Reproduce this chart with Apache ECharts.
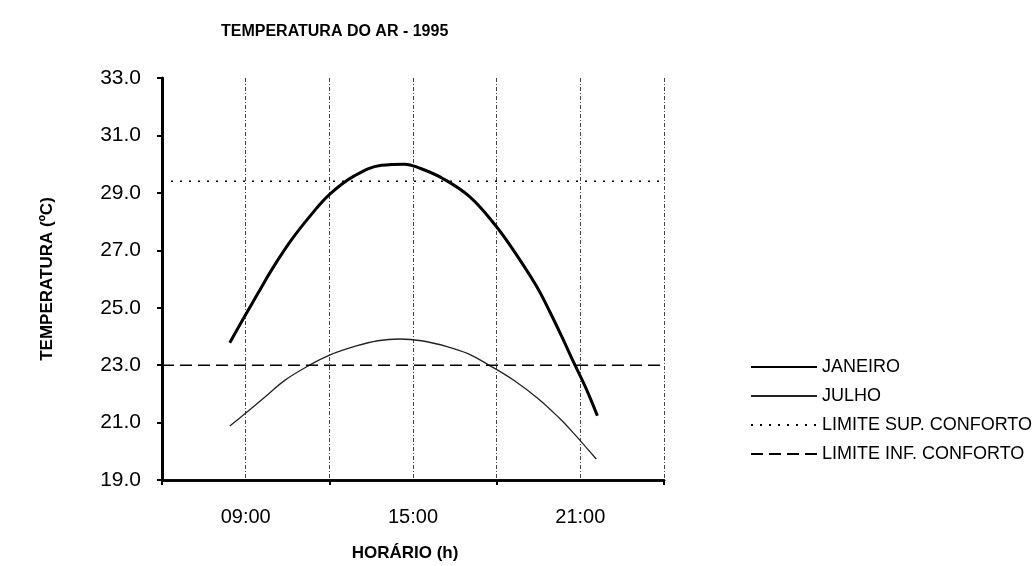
<!DOCTYPE html>
<html>
<head>
<meta charset="utf-8">
<script src="https://cdn.jsdelivr.net/npm/echarts@6/dist/echarts.min.js"></script>
<style>html,body{margin:0;padding:0;background:#fff}#c{width:1036px;height:566px}</style>
</head>
<body>
<div id="c"></div>
<script>
const titleText = 'TEMPERATURA DO AR - 1995';
const xName = 'HORÁRIO (h)';
const yName = 'TEMPERATURA (ºC)';
const xLabelHours = [9, 15, 21];
const xLabelTexts = ['09:00', '15:00', '21:00'];
const seriesNames = ['JANEIRO', 'JULHO', 'LIMITE SUP. CONFORTO', 'LIMITE INF. CONFORTO'];

const janHours = [8.43, 8.96, 9.44, 9.92, 10.64, 11.36, 12.01, 12.91, 13.87, 14.7, 15.24, 16.07, 17.03, 17.93, 18.59, 19.43, 19.91, 20.39, 20.75, 21.2, 21.61];
const janTemps = [23.78, 24.69, 25.5, 26.3, 27.36, 28.25, 28.95, 29.6, 29.96, 30.0, 29.86, 29.5, 28.87, 27.9, 27.02, 25.75, 24.85, 23.88, 23.12, 22.2, 21.24];

const julHours = [8.43, 8.96, 9.68, 10.4, 11.29, 12.01, 12.91, 13.74, 14.52, 15.3, 16.25, 16.97, 17.69, 18.65, 19.48, 20.2, 20.74, 21.57];
const julTemps = [20.88, 21.3, 21.88, 22.47, 23.0, 23.35, 23.65, 23.85, 23.91, 23.85, 23.64, 23.4, 23.02, 22.45, 21.84, 21.2, 20.65, 19.73];

const limitHours = [6, 24];
const limitSup = [29.4, 29.4];
const limitInf = [23.0, 23.0];

const zip = (xs, ys) => xs.map((x, i) => [x, ys[i]]);
const FONT = '"Liberation Sans", Arial, sans-serif';

const chart = echarts.init(document.getElementById('c'), null, {renderer: 'canvas'});
chart.setOption({
  animation: false,
  backgroundColor: '#fff',
  textStyle: {fontFamily: FONT, color: '#000'},
  title: {
    text: titleText, left: 216, top: 19,
    textStyle: {fontFamily: FONT, fontSize: 16, fontWeight: 'bold', color: '#000'}
  },
  graphic: [{
    type: 'text', x: 405, y: 553,
    style: {text: xName, font: 'bold 17px "Liberation Sans", Arial, sans-serif', fill: '#000',
            align: 'center', verticalAlign: 'middle'}
  }],
  legend: {
    orient: 'vertical', left: 745, top: 353,
    itemWidth: 66, itemHeight: 14, itemGap: 11,
    itemStyle: {opacity: 0},
    textStyle: {fontFamily: FONT, fontSize: 18, color: '#000'},
    data: seriesNames
  },
  grid: {left: 162, right: 372, top: 78, bottom: 86, containLabel: false},
  xAxis: [{
    type: 'value', min: 6, max: 24, interval: 3,
    axisLine: {show: true, lineStyle: {color: '#000', width: 2.5}},
    axisTick: {show: false},
    splitLine: {show: true, lineStyle: {color: '#444', width: 1, type: [4, 2, 1, 2]}},
    axisLabel: {
      margin: 27, fontSize: 20, fontFamily: FONT, color: '#000',
      formatter: v => { const i = xLabelHours.indexOf(v); return i >= 0 ? xLabelTexts[i] : ''; }
    }
  }, {
    type: 'value', min: 6, max: 24, interval: 6, position: 'bottom',
    axisLine: {show: true, lineStyle: {color: '#000', width: 2.5}},
    axisTick: {show: true, length: 5, lineStyle: {color: '#000', width: 2}},
    splitLine: {show: false},
    axisLabel: {show: false}
  }],
  yAxis: {
    type: 'value', min: 19, max: 33, interval: 2,
    name: yName, nameLocation: 'middle', nameGap: 106,
    nameTextStyle: {fontFamily: FONT, fontSize: 17, fontWeight: 'bold', color: '#000'},
    axisLine: {show: true, lineStyle: {color: '#000', width: 3}},
    axisTick: {show: true, length: 5, lineStyle: {color: '#000', width: 2}},
    splitLine: {show: false},
    axisLabel: {margin: 21, fontSize: 21, fontFamily: FONT, color: '#000', formatter: v => v.toFixed(1)}
  },
  series: [{
    name: seriesNames[0], type: 'line', smooth: 0.4, symbol: 'none',
    lineStyle: {color: '#000', width: 3},
    itemStyle: {color: '#000'},
    data: zip(janHours, janTemps)
  }, {
    name: seriesNames[1], type: 'line', smooth: 0.4, symbol: 'none',
    lineStyle: {color: '#222', width: 1.3},
    itemStyle: {color: '#222'},
    data: zip(julHours, julTemps)
  }, {
    name: seriesNames[2], type: 'line', symbol: 'none',
    lineStyle: {color: '#000', width: 1.5, type: [2, 7]},
    itemStyle: {color: '#000'},
    data: zip(limitHours, limitSup)
  }, {
    name: seriesNames[3], type: 'line', symbol: 'none',
    lineStyle: {color: '#000', width: 1.5, type: [12, 6]},
    itemStyle: {color: '#000'},
    data: zip(limitHours, limitInf)
  }]
});
</script>
</body>
</html>
